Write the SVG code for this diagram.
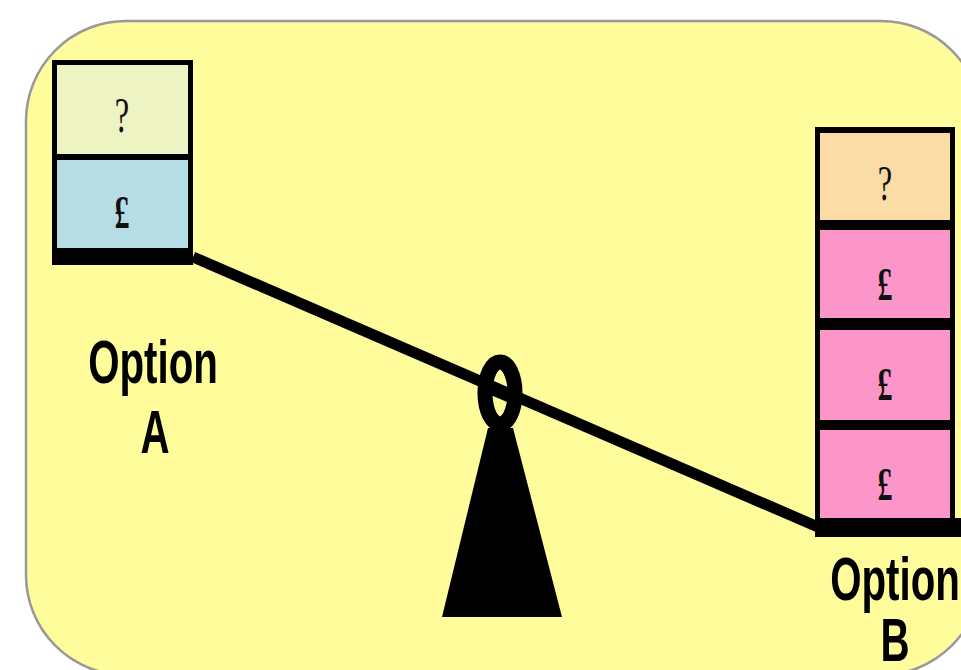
<svg xmlns="http://www.w3.org/2000/svg" width="961" height="670" viewBox="0 0 961 670">
<style>
.bg{fill:#FFFC9C;stroke:#999;stroke-width:2.5}
.blk{fill:#000}
.sym{font-family:"Liberation Serif","Times New Roman",serif;font-size:50px;fill:#111;text-anchor:middle}
.pound{font-weight:bold;font-size:46px}
.lbl{font-family:"Liberation Sans",Arial,sans-serif;font-weight:bold;font-size:62px;fill:#000;text-anchor:middle}
</style>
<rect class="bg" x="26" y="21" width="955" height="654" rx="100" ry="100"/>
<g id="connectors">
<line x1="193" y1="257" x2="818" y2="527" stroke="#000" stroke-width="11"/>
</g>
<g id="fulcrum">
<polygon class="blk" points="488,428 513,428 562,617 442,617"/>
<ellipse cx="500" cy="393" rx="15" ry="31" fill="none" stroke="#000" stroke-width="15"/>
<line x1="480" y1="384.4" x2="520" y2="401.6" stroke="#000" stroke-width="11"/>
</g>
<g id="optionA-stack">
<rect class="blk" x="52" y="60" width="141" height="205"/>
<rect x="57" y="65" width="131" height="89" fill="#EDF3C3"/>
<rect x="57" y="160" width="131" height="88" fill="#B6DDE3"/>
<text class="sym" transform="translate(122,132) scale(0.65,1)">?</text>
<text class="sym pound" transform="translate(122,228) scale(0.65,1)">£</text>
</g>
<g id="optionA-label">
<text class="lbl" transform="translate(153,383) scale(0.65,1)">Option</text>
<text class="lbl" transform="translate(155,453) scale(0.65,1)">A</text>
</g>
<g id="optionB-stack">
<rect class="blk" x="815" y="127" width="140" height="410"/>
<rect class="blk" x="815" y="518" width="146" height="19"/>
<rect x="820" y="133" width="130" height="87" fill="#FCDCA6"/>
<rect x="820" y="230" width="130" height="88" fill="#FC95C8"/>
<rect x="820" y="330" width="130" height="90" fill="#FC95C8"/>
<rect x="820" y="430" width="130" height="88" fill="#FC95C8"/>
<text class="sym" transform="translate(885,200) scale(0.65,1)">?</text>
<text class="sym pound" transform="translate(885,300) scale(0.65,1)">£</text>
<text class="sym pound" transform="translate(885,400) scale(0.65,1)">£</text>
<text class="sym pound" transform="translate(885,500) scale(0.65,1)">£</text>
</g>
<g id="optionB-label">
<text class="lbl" transform="translate(895,600) scale(0.65,1)">Option</text>
<text class="lbl" transform="translate(895,661) scale(0.65,1)">B</text>
</g>
</svg>
